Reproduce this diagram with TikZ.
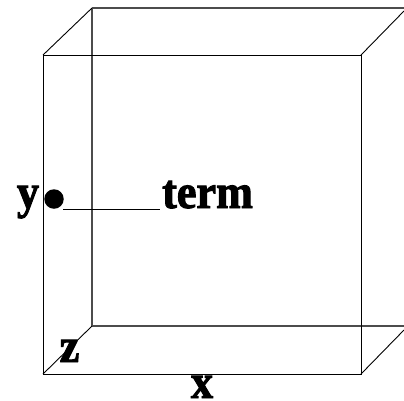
\documentclass[tikz,border=0pt]{standalone}
\usepackage{fontspec}
\setmainfont[BoldFeatures={FakeBold=2,FakeStretch=0.92}]{Liberation Serif}
\usepackage{tikz}
\usetikzlibrary{positioning,calc}
\tikzset{
  frontedge/.style={line width=0.9pt,black},
  backedge/.style={line width=1.1pt,black!70},
  axislabel/.style={inner sep=0pt,anchor=base,font=\fontsize{48}{48}\selectfont\bfseries},
}

\begin{document}
\begin{tikzpicture}[x=1pt,y=-1pt]
  \useasboundingbox (0,0) rectangle (404,400);
  \draw[backedge] (92,8) -- (404,8); % back face, top edge
  \draw[backedge] (92,8) -- (92,326); % back face, left edge
  \draw[backedge] (92,326) -- (404,326); % back face, bottom edge
  \draw[frontedge] (43,55) rectangle (361,374); % front face
  \draw[frontedge] (43,55) -- (92,8); % top left depth edge
  \draw[frontedge] (361,55) -- (404,11); % top right depth edge
  \draw[frontedge] (43,374) -- (92,326); % bottom left depth edge
  \draw[frontedge] (361,374) -- (404,330); % bottom right depth edge
  \node[circle,fill=black,minimum size=19.5pt,inner sep=0pt] (port) at (54,199) {}; % terminal dot
  \coordinate (wirestart) at (63,209.5);
  \node[axislabel,anchor=base west] (term) at (162,208) {term};
  \draw[line width=1pt] (wirestart) -- (160,209.5); % wire to the label
  \node[axislabel] (ylabel) at (28,208) {y};
  \node[axislabel] (zlabel) at (69.5,362) {z};
  \node[axislabel] (xlabel) at (202,398) {x};
\end{tikzpicture}
\end{document}
